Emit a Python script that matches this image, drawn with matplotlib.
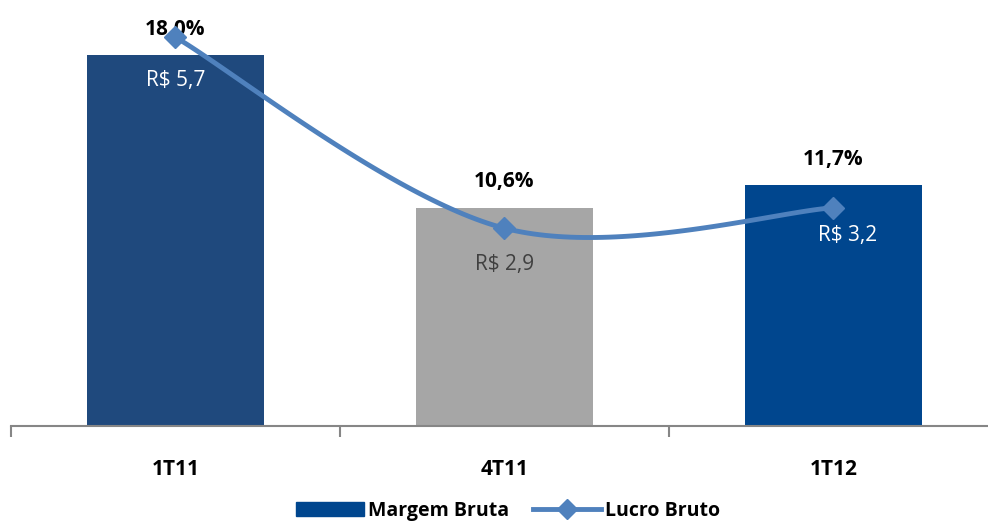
import numpy as np
import matplotlib
matplotlib.use("Agg")
import matplotlib.pyplot as plt
from matplotlib.lines import Line2D
from matplotlib.patches import Patch

# dados
categorias = ["1T11", "4T11", "1T12"]
margem_bruta = [18.0, 10.6, 11.7]
lucro_bruto = [5.7, 2.9, 3.2]
rotulos_margem = ["18,0%", "10,6%", "11,7%"]
rotulos_lucro = ["R$ 5,7", "R$ 2,9", "R$ 3,2"]

cores_barras = ["#1F497D", "#A6A6A6", "#00468E"]
cor_linha = "#4F81BD"
cor_texto_lucro = ["white", "#404040", "white"]
desloc_lucro = [(0, -31), (0, -26), (10, -20)]

plt.rcParams['font.family'] = ['Open Sans', 'DejaVu Sans']

fig = plt.figure(figsize=(9.88, 5.21), dpi=100)
ax = fig.add_axes([11/988, 95/521, 1 - 11/988, 416/521])
x = np.arange(len(categorias))

ax.bar(x, margem_bruta, width=0.54, color=cores_barras, zorder=2)
for xi, v, r in zip(x, margem_bruta, rotulos_margem):
    ax.annotate(r, (xi, v), xytext=(0, 11), textcoords="offset points",
                ha="center", va="bottom", fontsize=15, fontweight="bold",
                color="black", zorder=5)

for s in ["top", "right", "left"]:
    ax.spines[s].set_visible(False)
ax.spines["bottom"].set_color("#868686")
ax.spines["bottom"].set_linewidth(1.5)
ax.set_yticks([])
ax.set_xticks([-0.5, 0.5, 1.5, 2.5])
ax.set_xticklabels([])
ax.tick_params(axis="x", length=8, width=1.5, color="#868686", direction="out")
ax.set_xlim(-0.5, 2.47)
ax.set_ylim(0, 416/20.6)
for xi, c in zip(x, categorias):
    ax.text(xi, -0.105, c, transform=ax.get_xaxis_transform(), ha="center",
            va="center", fontsize=15, fontweight="bold")

# linha suavizada (bezier estilo excel)
ax2 = ax.twinx()
ax2.set_ylim(0, 416/68.2)
ax2.set_yticks([])
for s in ax2.spines.values():
    s.set_visible(False)
pts = np.column_stack([x, lucro_bruto]).astype(float)
n = len(pts)
curva = []
t = np.linspace(0, 1, 60)[:, None]
for i in range(n - 1):
    p0 = pts[max(i - 1, 0)]
    p1 = pts[i]
    p2 = pts[i + 1]
    p3 = pts[min(i + 2, n - 1)]
    c1 = p1 + (p2 - p0) / 6
    c2 = p2 - (p3 - p1) / 6
    seg = (1 - t)**3 * p1 + 3*(1 - t)**2 * t * c1 + 3*(1 - t) * t**2 * c2 + t**3 * p2
    curva.append(seg)
curva = np.vstack(curva)
ax2.plot(curva[:, 0], curva[:, 1], color=cor_linha, lw=3.5, zorder=3, clip_on=False)
ax2.plot(x, lucro_bruto, ls="none", marker="D", ms=11, color=cor_linha, zorder=4, clip_on=False)
for xi, v, r, c, d in zip(x, lucro_bruto, rotulos_lucro, cor_texto_lucro, desloc_lucro):
    ax2.annotate(r, (xi, v), xytext=d, textcoords="offset points", ha="center",
                 va="center", fontsize=15, color=c)

handles = [Patch(color="#00468E"),
           Line2D([], [], color=cor_linha, lw=3.5, marker="D", ms=10)]
fig.legend(handles, ["Margem Bruta", "Lucro Bruto"], loc="center",
           bbox_to_anchor=(508/988, 10/521), ncol=2, frameon=False,
           prop={"size": 14, "weight": "bold"}, handlelength=3.5,
           columnspacing=1.2, handletextpad=0.2)

fig.savefig("out.png", dpi=100)
